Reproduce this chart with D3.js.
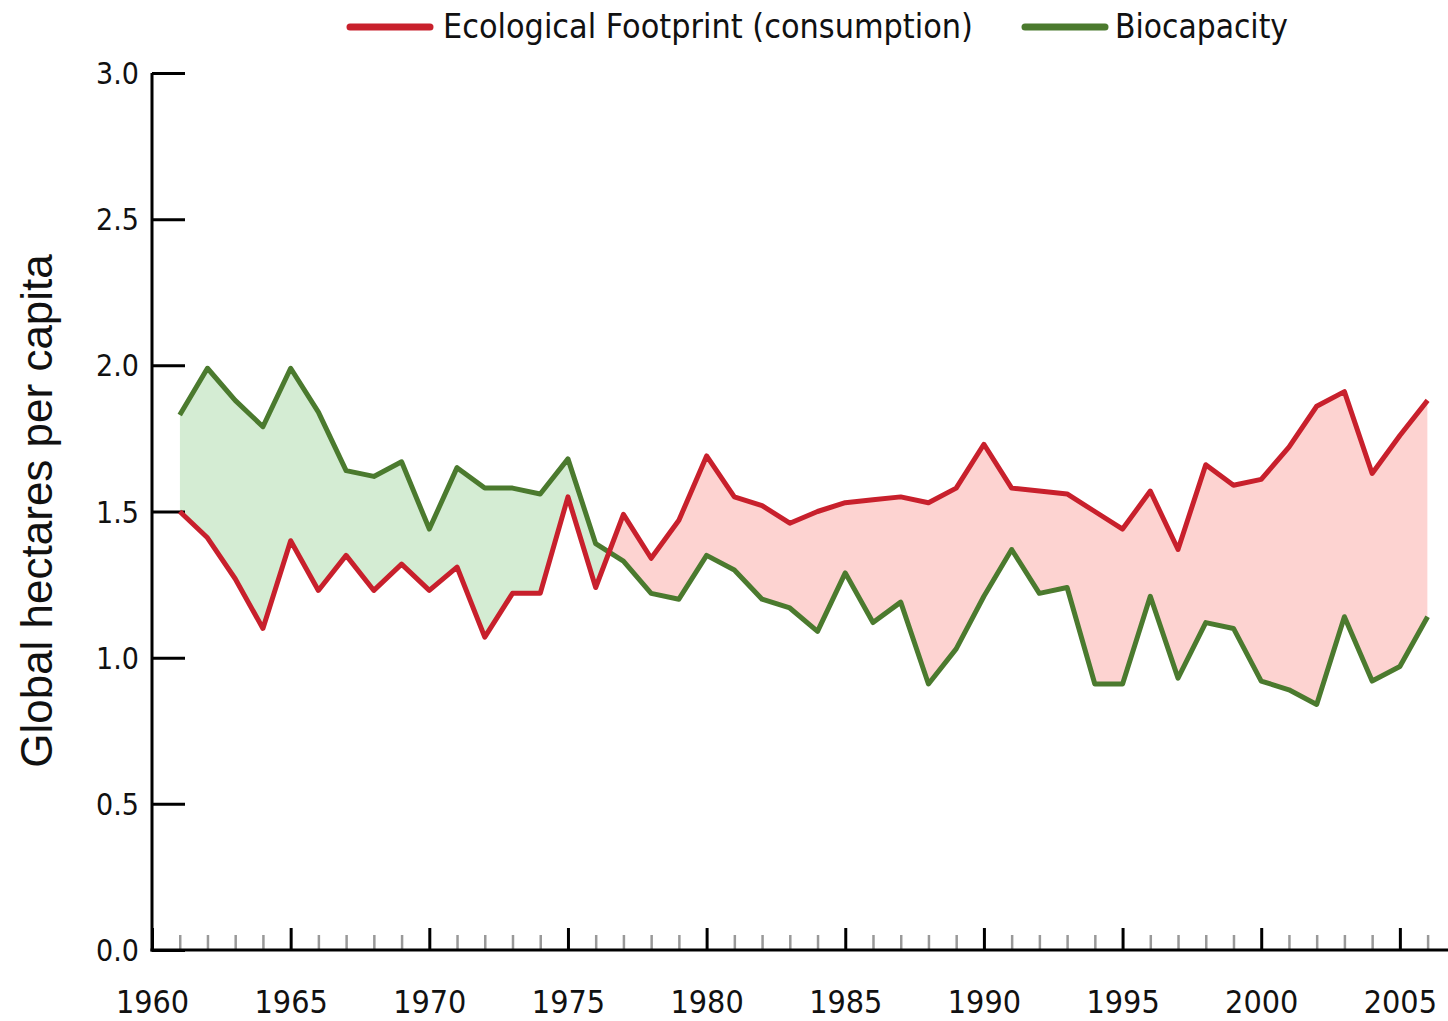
<!DOCTYPE html>
<html>
<head>
<meta charset="utf-8">
<title>Footprint vs Biocapacity</title>
<script src="https://d3js.org/d3.v7.min.js"></script>
<style>
  body { margin: 0; background: #fff; }
  text { fill: #111; }
</style>
</head>
<body>
<script>
// data
var years = d3.range(1961, 2007);
var footprint = [1.50, 1.41, 1.27, 1.10, 1.40, 1.23, 1.35, 1.23, 1.32, 1.23,
                 1.31, 1.07, 1.22, 1.22, 1.55, 1.24, 1.49, 1.34, 1.47, 1.69,
                 1.55, 1.52, 1.46, 1.50, 1.53, 1.54, 1.55, 1.53, 1.58, 1.73,
                 1.58, 1.57, 1.56, 1.50, 1.44, 1.57, 1.37, 1.66, 1.59, 1.61,
                 1.72, 1.86, 1.91, 1.63, 1.76, 1.88];
var biocapacity = [1.83, 1.99, 1.88, 1.79, 1.99, 1.84, 1.64, 1.62, 1.67, 1.44,
                   1.65, 1.58, 1.58, 1.56, 1.68, 1.39, 1.33, 1.22, 1.20, 1.35,
                   1.30, 1.20, 1.17, 1.09, 1.29, 1.12, 1.19, 0.91, 1.03, 1.21,
                   1.37, 1.22, 1.24, 0.91, 0.91, 1.21, 0.93, 1.12, 1.10, 0.92,
                   0.89, 0.84, 1.14, 0.92, 0.97, 1.14];
var yTicks = [0, 0.5, 1.0, 1.5, 2.0, 2.5, 3.0];
var majorYears = [1960, 1965, 1970, 1975, 1980, 1985, 1990, 1995, 2000, 2005];
var seriesNames = ["Ecological Footprint (consumption)", "Biocapacity"];

var W = 1448, H = 1021;
var red = "#c8202c", green = "#4b7a2e";
var tickFont = "'DejaVu Sans Condensed', 'Liberation Sans Narrow', sans-serif";

var data = years.map(function(y, i) {
    return { year: y, fp: footprint[i], bc: biocapacity[i] };
});

var svg = d3.select("body").append("svg")
    .attr("width", W)
    .attr("height", H);

var x = d3.scaleLinear().domain([1960, 2006]).range([152, 1427.6]);
var y = d3.scaleLinear().domain([0, 3]).range([950, 73]);

// clip regions above / below the biocapacity line
var defs = svg.append("defs");
defs.append("clipPath").attr("id", "above")
    .append("path").datum(data)
    .attr("d", d3.area().x(function(d) { return x(d.year); })
        .y0(0).y1(function(d) { return y(d.bc); }));
defs.append("clipPath").attr("id", "below")
    .append("path").datum(data)
    .attr("d", d3.area().x(function(d) { return x(d.year); })
        .y0(H).y1(function(d) { return y(d.bc); }));

var between = d3.area()
    .x(function(d) { return x(d.year); })
    .y0(function(d) { return y(d.fp); })
    .y1(function(d) { return y(d.bc); });

// deficit (pink) and reserve (green)
svg.append("path").datum(data)
    .attr("clip-path", "url(#above)")
    .attr("fill", "#fdd3d1")
    .attr("d", between);
svg.append("path").datum(data)
    .attr("clip-path", "url(#below)")
    .attr("fill", "#d4ecd3")
    .attr("d", between);

// axes
var yAxis = d3.axisLeft(y).tickValues(yTicks)
    .tickFormat(d3.format(".1f"))
    .tickSize(-33).tickPadding(13);
var gy = svg.append("g").attr("transform", "translate(" + x(1960) + ",0)").call(yAxis);
gy.select(".domain").remove();
gy.selectAll(".tick line").attr("stroke", "#000").attr("stroke-width", 3);
gy.selectAll("text").attr("font-family", tickFont).attr("font-size", 30).attr("dy", "0.35em");

var xMinor = d3.axisBottom(x).tickValues(years.filter(function(v) { return v % 5 !== 0; }))
    .tickSize(-15).tickFormat("");
var gxm = svg.append("g").attr("transform", "translate(0," + y(0) + ")").call(xMinor);
gxm.select(".domain").remove();
gxm.selectAll(".tick line").attr("stroke", "#999").attr("stroke-width", 2.5);

var xAxis = d3.axisBottom(x).tickValues(majorYears)
    .tickFormat(d3.format("d")).tickSize(-22).tickPadding(40);
var gx = svg.append("g").attr("transform", "translate(0," + y(0) + ")").call(xAxis);
gx.select(".domain").remove();
gx.selectAll(".tick line").attr("stroke", "#000").attr("stroke-width", 3);
gx.selectAll("text").attr("font-family", tickFont).attr("font-size", 32);

// axis lines
svg.append("line")
    .attr("x1", x(1960)).attr("x2", x(1960))
    .attr("y1", y(3)).attr("y2", y(0) + 1.5)
    .attr("stroke", "#000").attr("stroke-width", 3);
svg.append("line")
    .attr("x1", x(1960) - 1.5).attr("x2", W)
    .attr("y1", y(0)).attr("y2", y(0))
    .attr("stroke", "#000").attr("stroke-width", 3);

// series lines
var lineFp = d3.line().x(function(d) { return x(d.year); }).y(function(d) { return y(d.fp); });
var lineBc = d3.line().x(function(d) { return x(d.year); }).y(function(d) { return y(d.bc); });
svg.append("path").datum(data).attr("fill", "none")
    .attr("stroke", green).attr("stroke-width", 5).attr("stroke-linejoin", "round")
    .attr("d", lineBc);
svg.append("path").datum(data).attr("fill", "none")
    .attr("stroke", red).attr("stroke-width", 5).attr("stroke-linejoin", "round")
    .attr("d", lineFp);

// y label
svg.append("text")
    .attr("transform", "translate(52,511) rotate(-90)")
    .attr("text-anchor", "middle")
    .attr("font-family", "'Liberation Sans', Arial, sans-serif")
    .attr("font-size", 44)
    .text("Global hectares per capita");

// legend
var legend = [
    { name: seriesNames[0], color: red, x: 350, tx: 443, len: 530 },
    { name: seriesNames[1], color: green, x: 1025, tx: 1115, len: 173 }
];
var lg = svg.selectAll("g.legend").data(legend).enter().append("g").attr("class", "legend");
lg.append("line")
    .attr("x1", function(d) { return d.x; }).attr("x2", function(d) { return d.x + 80; })
    .attr("y1", 27).attr("y2", 27)
    .attr("stroke", function(d) { return d.color; })
    .attr("stroke-width", 7).attr("stroke-linecap", "round");
lg.append("text")
    .attr("x", function(d) { return d.tx; }).attr("y", 38)
    .attr("font-family", tickFont).attr("font-size", 33)
    .attr("textLength", function(d) { return d.len; })
    .attr("lengthAdjust", "spacingAndGlyphs")
    .text(function(d) { return d.name; });
</script>
</body>
</html>
